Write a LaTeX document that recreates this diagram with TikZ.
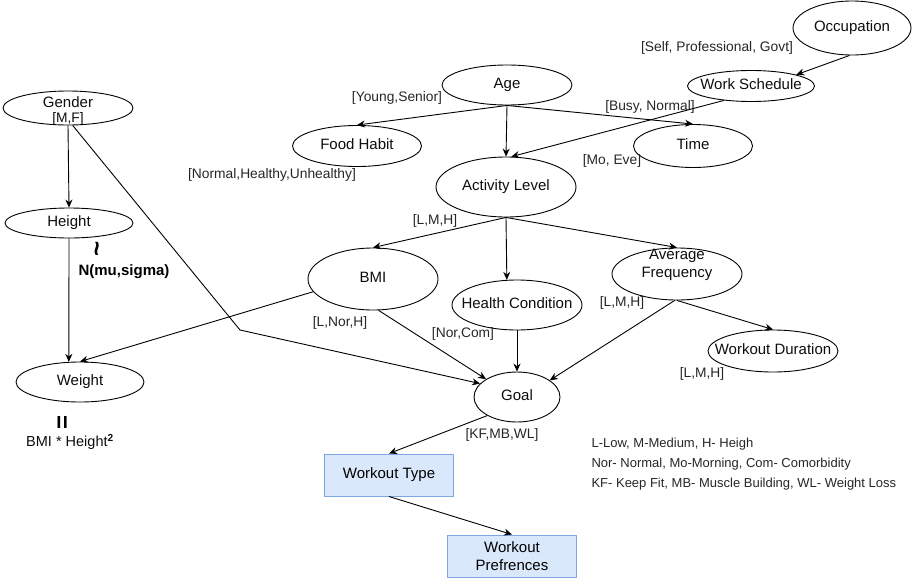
\documentclass[tikz,border=0pt]{standalone}
\usepackage{fontspec}
\setmainfont{Liberation Sans}
\usetikzlibrary{shapes.geometric,arrows.meta}
\definecolor{actfill}{HTML}{DAE8FC}
\definecolor{actline}{HTML}{7EA6E0}
\newcommand{\nodefont}{\fontsize{15}{18}\selectfont}
\newcommand{\lblfont}{\fontsize{13.8}{16}\selectfont}
\newcommand{\legfont}{\fontsize{13}{16}\selectfont}

\begin{document}
\begin{tikzpicture}[x=1pt, y=-1pt, line join=round, >={Stealth[length=8pt,width=7pt]},
	var/.style 2 args={ellipse, draw, line width=0.9pt, inner sep=0pt, minimum width=#1, minimum height=#2},
	act/.style={rectangle, draw=actline, line width=1pt, fill=actfill, inner sep=0pt, minimum width=129, minimum height=42, font=\nodefont, align=center},
	nt/.style={font=\nodefont, text=black!95, text height=1.5ex, text depth=.25ex},
	lbl/.style={font=\lblfont, text=black!85},
	link/.style={->, line width=0.9pt}]
	\useasboundingbox (0,0) rectangle (912,581);
	% variables
	\node[var={118}{54}, label={[nt]center:Occupation}] (occ) at (852,28) {};
	\node[var={127}{31}, label={[nt]center:Work Schedule}] (work) at (751,86) {};
	\node[var={130}{40}, label={[nt]center:Age}] (age) at (507,85) {};
	\node[var={129}{41}, label={[nt]center:Food Habit}] (food) at (357,146) {};
	\node[var={119}{43}, label={[nt]center:Time}] (time) at (693,146) {};
	\node[var={140}{60}, label={[nt]center:Activity Level}] (act) at (506,187) {};
	\node[var={130}{62}, label={[nt]center:BMI}] (bmi) at (373,279) {};
	\node[var={130}{50}, label={[nt]center:Health Condition}] (health) at (517,305) {};
	\node[var={130}{52}, label={[nt,align=center]center:Average\\Frequency}] (avg) at (677,274) {};
	\node[var={130}{42}, label={[nt]center:Workout Duration}] (dur) at (773,351) {};
	\node[var={86}{50}, label={[nt]center:Goal}] (goal) at (517,397) {};
	\node[var={130}{34}, label={[nt,yshift=4pt]center:Gender}, label={[lbl,text=black!95,yshift=-11pt]center:{[M,F]}}] (gender) at (68,108) {};
	\node[var={128}{30}, label={[nt]center:Height}] (height) at (69,223) {};
	\node[var={128}{40}, label={[nt]center:Weight}] (weight) at (80,382) {};
	\node[act] (type) at (389,475) {Workout Type};
	\node[act] (pref) at (512,556) {Workout\\Prefrences};
	% value ranges
	\node[lbl] (occval) at (717,48) {[Self, Professional, Govt]};
	\node[lbl] (workval) at (650,107) {[Busy, Normal]};
	\node[lbl] (ageval) at (397,98) {[Young,Senior]};
	\node[lbl] (foodval) at (272,175) {[Normal,Healthy,Unhealthy]};
	\node[lbl] (timeval) at (612,161) {[Mo, Eve]};
	\node[lbl] (actval) at (435,221) {[L,M,H]};
	\node[lbl] (bmival) at (340,323) {[L,Nor,H]};
	\node[lbl] (healthval) at (463,334) {[Nor,Com]};
	\node[lbl] (avgval) at (622,303) {[L,M,H]};
	\node[lbl] (durval) at (702,374) {[L,M,H]};
	\node[lbl] (goalval) at (502,435) {[KF,MB,WL]};
	% height and weight formulas
	\node[font=\bfseries\fontsize{26}{26}\selectfont, rotate=90, inner sep=0pt] (dist) at (100,249) {\textasciitilde};
	\node[font=\bfseries\nodefont] (normal) at (124,272) {N(mu,sigma)};
	\node[font=\bfseries\fontsize{24}{24}\selectfont, rotate=90, inner sep=0pt] (eq) at (64,422) {=};
	\node[font=\fontsize{14.5}{16}\selectfont, text=black!95] (bmiform) at (70,442) {BMI * Height\textsuperscript{\bfseries 2}};
	% legend
	\node[font=\legfont, text=black!85, anchor=base west] (leg1) at (588,447.5) {L-Low, M-Medium, H- Heigh};
	\node[font=\legfont, text=black!85, anchor=base west] (leg2) at (588,467.5) {Nor- Normal, Mo-Morning, Com- Comorbidity};
	\node[font=\legfont, text=black!85, anchor=base west] (leg3) at (588,487.5) {KF- Keep Fit, MB- Muscle Building, WL- Weight Loss};
	% dependencies
	\coordinate (bend) at (240,330);
	\draw[link] (occ.265) -- (work.14);
	\draw[link] (work.208) -- (act.80);
	\draw[link] (age.south) -- (food.north);
	\draw[link] (age.south) -- (act.north);
	\draw[link] (age.south) -- (time.north);
	\draw[link] (act.south) -- (bmi.north);
	\draw[link] (act.south) -- (health.112);
	\draw[link] (act.south) -- (avg.north);
	\draw[link] (gender.south) -- (height.north);
	\draw[link] (height.south) -- (weight.119);
	\draw[link] (gender.-75) -- (bend) -- (goal.160);
	\draw[link] (bmi.192) -- (weight.north);
	\draw[link] (bmi.-80) -- (goal.150);
	\draw[link] (health.south) -- (goal.north);
	\draw[link] (avg.265) -- (goal.27);
	\draw[link] (avg.south) -- (dur.north);
	\draw[link] (goal.212) -- (type.north);
	\draw[link] (type.south) -- (pref.north);
\end{tikzpicture}
\end{document}
